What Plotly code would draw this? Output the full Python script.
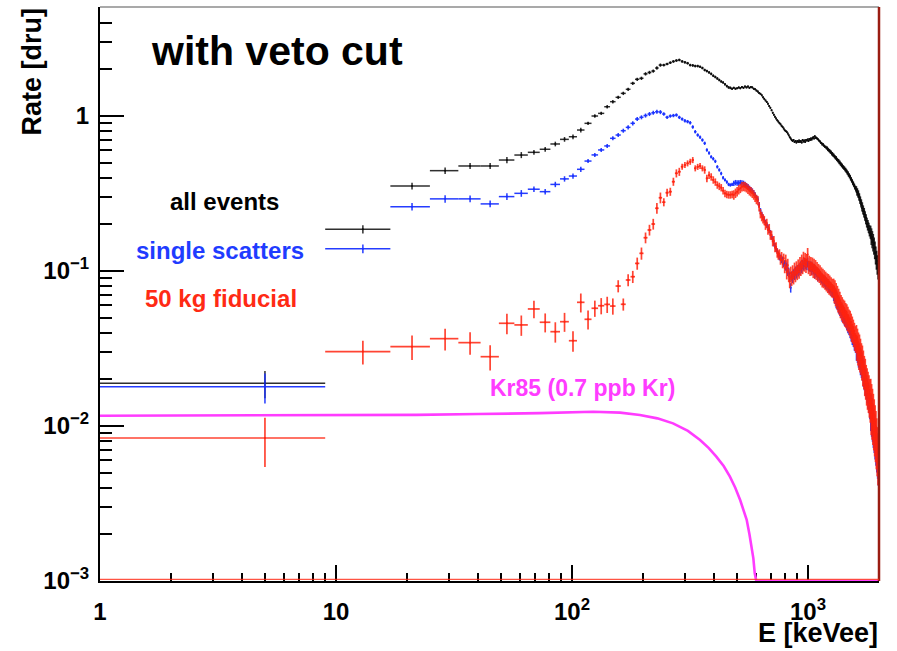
import numpy as np
import plotly.graph_objects as go

# Energy binning: 8 keVee bins from 1 to 2001 keVee
bin_width = 8.0
bin_low = np.arange(1.0, 2001.0, bin_width)
bin_center = bin_low + bin_width / 2

# Rate [dru] per bin
all_events = [
    0.0189, 0.186, 0.353, 0.444, 0.476, 0.476, 0.520, 0.560, 0.583, 0.610,
    0.660, 0.707, 0.735, 0.812, 0.897, 1.00, 1.04, 1.148, 1.237, 1.32,
    1.40, 1.487, 1.625, 1.725, 1.751, 1.87, 1.91, 1.95, 2.04, 2.13,
    2.13, 2.165, 2.21, 2.25, 2.28, 2.30, 2.25, 2.22, 2.19, 2.13,
    2.12, 2.10, 2.10, 2.08, 2.04, 1.98, 1.95, 1.91, 1.87, 1.82,
    1.785, 1.746, 1.707, 1.67, 1.645, 1.60, 1.56, 1.53, 1.52, 1.50,
    1.52, 1.50, 1.51, 1.53, 1.51, 1.54, 1.52, 1.55, 1.53, 1.55,
    1.52, 1.54, 1.53, 1.50, 1.49, 1.46, 1.44, 1.41, 1.39, 1.36,
    1.32, 1.29, 1.26, 1.23, 1.20, 1.16, 1.13, 1.09, 1.05, 1.02,
    0.99, 0.965, 0.94, 0.92, 0.90, 0.885, 0.865, 0.85, 0.83, 0.81,
    0.80, 0.79, 0.77, 0.75, 0.73, 0.715, 0.70, 0.69, 0.70, 0.68,
    0.69, 0.675, 0.69, 0.68, 0.695, 0.68, 0.69, 0.675, 0.70, 0.685,
    0.695, 0.68, 0.70, 0.695, 0.705, 0.69, 0.71, 0.70, 0.715, 0.705,
    0.72, 0.73, 0.715, 0.74, 0.725, 0.725, 0.715, 0.71, 0.70, 0.69,
    0.685, 0.672, 0.670, 0.655, 0.660, 0.646, 0.642, 0.632, 0.634, 0.620,
    0.622, 0.611, 0.606, 0.598, 0.596, 0.585, 0.584, 0.570, 0.572, 0.559,
    0.560, 0.549, 0.546, 0.536, 0.538, 0.525, 0.522, 0.514, 0.515, 0.500,
    0.503, 0.490, 0.490, 0.478, 0.482, 0.468, 0.470, 0.460, 0.461, 0.450,
    0.452, 0.440, 0.441, 0.428, 0.431, 0.416, 0.418, 0.405, 0.408, 0.392,
    0.394, 0.380, 0.382, 0.367, 0.370, 0.356, 0.358, 0.343, 0.347, 0.333,
    0.336, 0.322, 0.326, 0.312, 0.316, 0.299, 0.302, 0.285, 0.288, 0.270,
    0.276, 0.255, 0.264, 0.244, 0.252, 0.233, 0.243, 0.222, 0.231, 0.211,
    0.221, 0.201, 0.210, 0.192, 0.203, 0.185, 0.195, 0.176, 0.187, 0.170,
    0.180, 0.162, 0.173, 0.154, 0.166, 0.147, 0.159, 0.140, 0.151, 0.131,
    0.142, 0.121, 0.132, 0.112, 0.124, 0.104, 0.116, 0.097, 0.106, 0.093,
]

single_scatters = [
    0.0179, 0.139, 0.260, 0.292, 0.292, 0.271, 0.302, 0.317, 0.337, 0.325,
    0.362, 0.393, 0.410, 0.453, 0.512, 0.561, 0.604, 0.641, 0.718, 0.754,
    0.804, 0.845, 0.897, 0.956, 0.981, 1.007, 1.03, 1.05, 1.066, 1.06,
    1.03, 0.981, 1.00, 1.007, 1.015, 0.98, 0.956, 0.932, 0.92, 0.905,
    0.85, 0.792, 0.754, 0.73, 0.70, 0.667, 0.604, 0.577, 0.545, 0.530,
    0.51, 0.47, 0.449, 0.426, 0.40, 0.387, 0.375, 0.362, 0.359, 0.362,
    0.368, 0.372, 0.370, 0.370, 0.372, 0.370, 0.368, 0.362, 0.356, 0.350,
    0.342, 0.335, 0.328, 0.320, 0.310, 0.298, 0.290, 0.268, 0.245, 0.232,
    0.222, 0.214, 0.206, 0.198, 0.192, 0.183, 0.177, 0.166, 0.161, 0.150,
    0.146, 0.138, 0.135, 0.128, 0.122, 0.123, 0.117, 0.119, 0.110, 0.113,
    0.108, 0.106, 0.100, 0.098, 0.091, 0.078, 0.093, 0.090, 0.096, 0.094,
    0.100, 0.096, 0.102, 0.099, 0.104, 0.101, 0.108, 0.104, 0.111, 0.108,
    0.114, 0.110, 0.112, 0.109, 0.114, 0.108, 0.107, 0.106, 0.108, 0.101,
    0.106, 0.102, 0.104, 0.096, 0.101, 0.098, 0.099, 0.092, 0.097, 0.094,
    0.093, 0.091, 0.089, 0.090, 0.086, 0.088, 0.085, 0.087, 0.082, 0.085,
    0.081, 0.083, 0.078, 0.081, 0.077, 0.079, 0.074, 0.077, 0.073, 0.075,
    0.071, 0.073, 0.068, 0.070, 0.064, 0.067, 0.062, 0.064, 0.059, 0.061,
    0.057, 0.059, 0.055, 0.057, 0.052, 0.055, 0.051, 0.053, 0.049, 0.051,
    0.048, 0.050, 0.046, 0.048, 0.044, 0.046, 0.043, 0.045, 0.041, 0.043,
    0.039, 0.041, 0.037, 0.040, 0.036, 0.038, 0.034, 0.036, 0.033, 0.035,
    0.031, 0.033, 0.030, 0.031, 0.028, 0.030, 0.027, 0.028, 0.025, 0.027,
    0.024, 0.026, 0.023, 0.024, 0.021, 0.023, 0.020, 0.021, 0.0185, 0.020,
    0.0175, 0.0185, 0.0165, 0.0175, 0.0152, 0.0165, 0.0142, 0.0150, 0.0130, 0.0142,
    0.0122, 0.0130, 0.0112, 0.0122, 0.0104, 0.0112, 0.0095, 0.0104, 0.0088, 0.0095,
    0.0080, 0.0088, 0.0073, 0.0080, 0.0066, 0.0072, 0.0060, 0.0065, 0.0054, 0.0058,
]

fiducial_50kg = [
    0.00837, 0.0302, 0.0325, 0.0366, 0.0345, 0.028, 0.046, 0.0449, 0.0569, 0.0467,
    0.0406, 0.0471, 0.0355, 0.0628, 0.0488, 0.0575, 0.0597, 0.0609, 0.0594, 0.080,
    0.061, 0.0875, 0.0919, 0.112, 0.130, 0.164, 0.184, 0.201, 0.254, 0.297,
    0.278, 0.32, 0.325, 0.377, 0.427, 0.437, 0.471, 0.483, 0.495, 0.507,
    0.52, 0.46, 0.47, 0.476, 0.46, 0.449, 0.396, 0.415, 0.405, 0.387,
    0.375, 0.359, 0.352, 0.345, 0.33, 0.317, 0.312, 0.31, 0.31, 0.312,
    0.31, 0.318, 0.325, 0.335, 0.342, 0.35, 0.352, 0.35, 0.345, 0.338,
    0.33, 0.325, 0.318, 0.31, 0.30, 0.29, 0.285, 0.26, 0.235, 0.225,
    0.218, 0.212, 0.198, 0.203, 0.184, 0.188, 0.171, 0.170, 0.155, 0.157,
    0.142, 0.143, 0.131, 0.127, 0.129, 0.118, 0.124, 0.112, 0.121, 0.104,
    0.116, 0.098, 0.109, 0.094, 0.086, 0.097, 0.089, 0.099, 0.091, 0.103,
    0.094, 0.105, 0.097, 0.108, 0.099, 0.112, 0.103, 0.116, 0.106, 0.121,
    0.110, 0.119, 0.108, 0.117, 0.128, 0.106, 0.114, 0.103, 0.112, 0.104,
    0.111, 0.100, 0.109, 0.099, 0.107, 0.097, 0.104, 0.095, 0.101, 0.093,
    0.099, 0.090, 0.096, 0.087, 0.094, 0.086, 0.092, 0.084, 0.090, 0.082,
    0.088, 0.080, 0.087, 0.078, 0.085, 0.077, 0.083, 0.075, 0.081, 0.074,
    0.079, 0.071, 0.077, 0.068, 0.074, 0.065, 0.071, 0.062, 0.068, 0.060,
    0.065, 0.057, 0.062, 0.055, 0.060, 0.053, 0.058, 0.052, 0.057, 0.050,
    0.055, 0.049, 0.054, 0.047, 0.052, 0.046, 0.050, 0.044, 0.049, 0.042,
    0.047, 0.040, 0.045, 0.039, 0.043, 0.037, 0.041, 0.035, 0.039, 0.034,
    0.038, 0.032, 0.036, 0.030, 0.034, 0.028, 0.033, 0.027, 0.031, 0.026,
    0.029, 0.024, 0.028, 0.022, 0.026, 0.021, 0.024, 0.019, 0.023, 0.018,
    0.021, 0.0165, 0.020, 0.0155, 0.019, 0.0148, 0.018, 0.0138, 0.017, 0.0128,
    0.016, 0.0118, 0.0148, 0.0110, 0.0138, 0.0102, 0.0128, 0.0094, 0.0118, 0.0086,
    0.0108, 0.0079, 0.0099, 0.0071, 0.0089, 0.0064, 0.0078, 0.0056, 0.0068, 0.0050,
]

# Relative statistical uncertainty, as (first bin index, fraction) steps
all_events_relerr = [(0, 0.20), (1, 0.06), (2, 0.05), (4, 0.045), (8, 0.035),
                     (14, 0.025), (30, 0.02), (60, 0.015), (150, 0.025),
                     (200, 0.05), (230, 0.09)]
single_scatters_relerr = [(0, 0.22), (1, 0.065), (2, 0.055), (4, 0.05), (8, 0.04),
                          (14, 0.03), (30, 0.025), (60, 0.04), (100, 0.07),
                          (160, 0.10), (200, 0.15), (230, 0.24)]
fiducial_50kg_relerr = [(0, 0.35), (1, 0.175), (2, 0.18), (3, 0.16), (4, 0.165),
                        (5, 0.185), (6, 0.15), (8, 0.13), (9, 0.14), (10, 0.15),
                        (11, 0.14), (12, 0.15), (13, 0.14), (15, 0.12), (19, 0.09),
                        (25, 0.08), (30, 0.06), (36, 0.045), (45, 0.055), (60, 0.07),
                        (100, 0.10), (160, 0.13), (200, 0.18), (230, 0.26)]

# Kr85 beta spectrum at 0.7 ppb natural Kr
kr85_energy = [1, 20, 22, 40, 73, 123, 160, 194, 230, 268, 310, 349, 380, 409,
               440, 467, 492, 516, 535, 550, 565, 577, 587, 595, 604, 612, 2000]
kr85_rate = [0.01165, 0.01168, 0.0118, 0.01195, 0.0121, 0.01237, 0.0122, 0.01178,
             0.0112, 0.0104, 0.0093, 0.00813, 0.0072, 0.00634, 0.0055, 0.00471,
             0.0040, 0.00333, 0.0028, 0.00248, 0.0020, 0.00167, 0.0014, 0.00112,
             0.00100, 0.0, 0.0]

x_min, x_max = 1.0, 2000.0
y_min, y_max = 1e-3, 5.05

for arr in (all_events, single_scatters, fiducial_50kg):
    assert len(arr) == len(bin_center)


def step_errors(values, steps):
    rel = np.zeros(len(values))
    for start, frac in steps:
        rel[start:] = frac
    return np.asarray(values) * rel


FONT = "Liberation Sans, Arial, Helvetica, sans-serif"

fig = go.Figure()

series = [
    (all_events, all_events_relerr, "rgba(10,10,10,0.85)", 1.5),
    (single_scatters, single_scatters_relerr, "rgba(25,50,255,0.95)", 1.5),
    (fiducial_50kg, fiducial_50kg_relerr, "rgba(255,35,15,0.85)", 1.7),
]
for values, steps, color, thick in series:
    fig.add_trace(go.Scatter(
        x=bin_center, y=values, mode="markers",
        marker=dict(size=2, color=color, line=dict(width=0)),
        error_x=dict(type="data", array=np.full(len(values), bin_width / 2),
                     width=0, thickness=thick, color=color),
        error_y=dict(type="data", array=step_errors(values, steps),
                     width=0, thickness=thick, color=color),
        showlegend=False, hoverinfo="skip",
    ))

# empty Kr85 bins sit on the lower edge of the log axis
kr_plot = np.where(np.asarray(kr85_rate) > 0, kr85_rate, y_min)
fig.add_trace(go.Scatter(
    x=kr85_energy, y=kr_plot, mode="lines",
    line=dict(color="#ff3cff", width=2.6),
    showlegend=False, hoverinfo="skip",
))

x_minor = [m * 10 ** d for d in range(0, 4) for m in range(2, 10) if m * 10 ** d < x_max]
y_minor = [m * 10.0 ** d for d in range(-3, 1) for m in range(2, 10) if m * 10.0 ** d < y_max]

tickfont = dict(family=FONT, size=24, color="black", weight="bold")

fig.update_xaxes(
    type="log", range=[np.log10(x_min), np.log10(x_max)],
    showgrid=False, zeroline=False, showline=True, linecolor="black", linewidth=2,
    ticks="inside", ticklen=16, tickwidth=1.5, tickcolor="black",
    tickmode="array", tickvals=[1, 10, 100, 1000],
    ticktext=["1", "10", "10<sup>2</sup>", "10<sup>3</sup>"],
    tickfont=tickfont, ticklabelstandoff=8,
    minor=dict(ticks="inside", ticklen=8, tickwidth=1.5, tickcolor="black",
               tickmode="array", tickvals=x_minor),
    layer="below traces",
)
fig.update_yaxes(
    type="log", range=[np.log10(y_min), np.log10(y_max)],
    showgrid=False, zeroline=False, showline=True, linecolor="black", linewidth=2,
    ticks="inside", ticklen=24, tickwidth=1.5, tickcolor="black",
    tickmode="array", tickvals=[1e-3, 1e-2, 1e-1, 1],
    ticktext=["10<sup>\u22123</sup>", "10<sup>\u22122</sup>", "10<sup>\u22121</sup>", "1"],
    tickfont=tickfont, ticklabelstandoff=4,
    minor=dict(ticks="inside", ticklen=12, tickwidth=1.5, tickcolor="black",
               tickmode="array", tickvals=y_minor),
)


def annot(text, x, y, size, color, xanchor="center", angle=0):
    fig.add_annotation(
        text=text, x=x, y=y, xref="paper", yref="paper", showarrow=False,
        xanchor=xanchor, yanchor="middle", textangle=angle,
        font=dict(family=FONT, size=size, color=color, weight="bold"),
    )


L, R, T, B = 100, 879, 7, 581
def px(xp):
    return (xp - L) / (R - L)
def py(yp):
    return (B - yp) / (B - T)


annot("with veto cut", px(277), py(51), 41, "black")
annot("all events", px(224), py(201.5), 24, "black")
annot("single scatters", px(220), py(250.5), 24, "#1f3cff")
annot("50 kg fiducial", px(221), py(298.5), 24, "#ff2a14")
annot("Kr85 (0.7 ppb Kr)", px(582), py(388), 23, "#ff3cff")
annot("Rate [dru]", px(31.5), py(72), 27, "black", angle=-90)
annot("E [keVee]", px(880), py(633), 27, "black", xanchor="right")

# frame: thin top edge, red right edge, red baseline
fig.add_shape(type="line", xref="paper", yref="paper", x0=0, x1=1, y0=1, y1=1,
              line=dict(color="#555555", width=1.2))
fig.add_shape(type="line", xref="paper", yref="paper", x0=1, x1=1, y0=0, y1=1,
              line=dict(color="#9a1c12", width=2.5))
fig.add_shape(type="line", xref="paper", yref="paper", x0=0, x1=1, y0=0.003, y1=0.003,
              line=dict(color="rgba(255,40,20,0.8)", width=1.2))

fig.update_layout(
    width=897, height=651,
    margin=dict(l=L, r=897 - R, t=T, b=651 - B),
    paper_bgcolor="white", plot_bgcolor="white",
)

fig.write_html("out.html")
